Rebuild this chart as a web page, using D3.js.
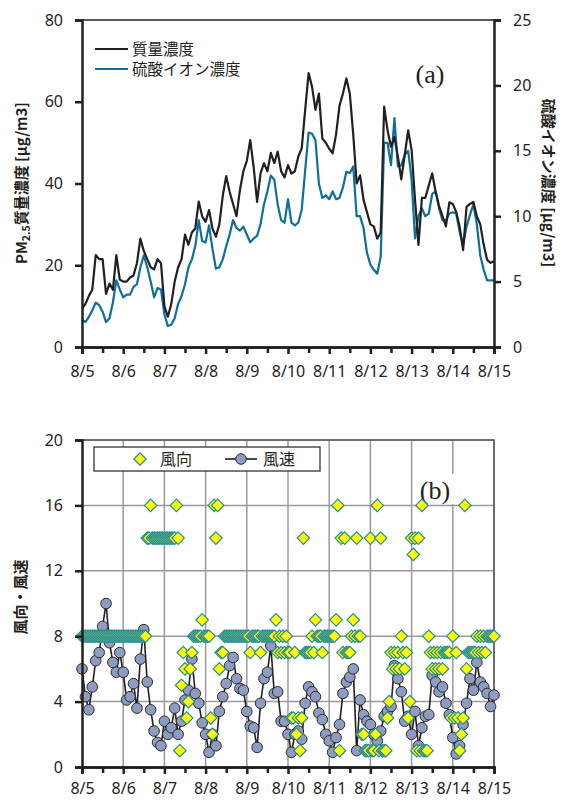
<!DOCTYPE html>
<html>
<head>
<meta charset="utf-8">
<script src="https://cdn.jsdelivr.net/npm/d3@7"></script>
<style>
  body { margin: 0; background: #fff; }
  svg { display: block; }
  text { font-family: "Noto Sans", "Open Sans", sans-serif; }
  .jp { font-family: "Noto Sans CJK JP", sans-serif; }
</style>
</head>
<body>
<div id="chart"></div>
<script>
// day labels (8/5 .. 8/15)
var dayLabels = ["8/5","8/6","8/7","8/8","8/9","8/10","8/11","8/12","8/13","8/14","8/15"];

// (a) 2-hourly PM2.5 mass concentration [ug/m3], 8/5 00:00 .. 8/15 00:00
var pmMass = [
  9.5,10.5,12.5,14,22.5,21.5,21.5,13,15.5,14,22.5,16.5,
  16,16,17,17.5,20.5,26.5,23.5,21.5,19.5,19,21.5,20.5,
  10,7.4,10.5,16,19.5,21.5,27.5,25,28,29,35.6,32,
  30.6,33.5,29,27,30,37,41.8,38,35,32,38.4,43,
  45.5,50.6,44,35.5,42.5,45,43,47.5,45,47.8,43,41.5,
  44.5,42.4,43,46.6,48.6,58,67,63.7,58,62,51,50,
  48.5,47.4,52,59,62,65.7,62,52,40,42,36,33,
  30,29.5,26.5,28,58.8,53,49,51.4,46.6,41,47,53,
  48.3,36,25,36.5,36.5,39.5,42.5,38,34.5,32,29.5,35.4,
  35,33,29.4,23.7,34.3,35,35.5,32,30,25,21.3,20.6,
  21
];

// (a) 2-hourly sulfate ion concentration [ug/m3] (right axis)
var sulfate = [
  2.1,1.9,2.3,2.8,3.4,3.2,2.7,1.9,2.2,3.4,5.1,4.4,
  3.8,4.0,4.0,4.6,4.8,6.1,7.0,6.1,5.0,3.8,4.5,4.4,
  2.5,1.6,1.7,2.2,3.3,3.9,4.8,6.1,6.7,7.7,9.7,8.1,
  8.0,9.3,7.5,6.0,6.1,6.7,7.7,8.6,9.7,9.1,8.9,9.2,
  8.6,8.0,8.3,8.5,9.4,10.9,11.9,13.1,12.8,10.9,9.7,9.5,
  11.3,9.5,9.3,9.5,10.5,13.5,16.4,16.3,15.8,12.5,11.4,11.6,
  11.3,11.9,11.3,11.4,12.2,13.4,13.3,13.8,10.0,10.0,9.1,7.2,
  6.3,5.9,5.6,6.9,15.6,15.6,13.9,17.5,13.8,13.9,14.7,15.0,
  12.8,8.3,10.0,10.6,10.0,10.2,11.7,11.9,10.6,9.7,9.7,10.2,
  10.3,10.2,8.8,7.8,9.2,10.1,10.9,9.4,7.0,5.9,5.1,5.1,
  5.1
];

// (b) 2-hourly wind speed [m/s]
var windSpeed = [
  6.0,4.3,3.5,4.9,6.5,7.0,8.6,10.0,7.6,6.4,5.8,7.0,
  5.8,4.1,4.3,5.1,3.6,6.6,8.4,5.2,3.5,2.2,1.5,1.3,
  2.8,2.0,2.4,3.6,2.0,2.8,4.1,4.7,6.6,4.5,3.9,2.7,
  2.0,0.9,2.0,1.3,3.4,4.3,5.1,6.2,6.7,5.4,4.8,4.7,
  3.4,2.5,2.4,1.2,3.9,5.4,5.8,7.4,4.5,4.6,2.8,2.8,
  2.0,0.9,2.0,2.2,1.7,3.9,4.9,4.6,4.3,3.3,2.9,2.0,
  1.6,0.9,1.8,2.6,4.5,5.2,5.5,6.0,1.0,4.1,3.2,2.8,
  2.6,2.0,1.6,2.2,3.1,3.4,3.7,6.2,5.4,4.6,2.8,3.1,
  2.0,3.4,1.3,2.4,3.1,3.2,5.6,5.2,4.6,4.9,3.9,3.2,
  1.8,0.8,1.3,2.6,3.9,5.4,4.7,6.4,5.2,4.9,4.5,3.7,
  4.4
];

// (b) hourly wind direction (16 points)
var windDir = [
  8,8,8,8,8,8,8,8,8,8,8,8,8,8,8,8,8,8,8,8,8,8,8,8,
  8,8,8,8,8,8,8,8,8,8,8,8,8,8,14,14,16,14,14,14,14,14,14,14,
  14,14,14,14,14,14,14,16,14,1,5,7,6,3,4,6,7,8,8,8,8,8,9,8,
  8,8,8,3,2,16,14,16,6,7,7,8,8,8,8,8,8,8,8,8,8,8,8,8,
  8,8,7,8,8,8,8,8,7,8,8,8,8,8,8,8,8,9,7,8,7,8,7,8,
  7,7,3,3,7,2,3,1,3,14,7,7,7,7,8,7,9,8,8,8,7,8,8,8,
  8,8,8,8,9,16,1,14,7,14,7,7,7,8,9,8,14,8,8,2,2,1,1,1,
  14,1,1,2,16,1,14,1,1,1,3,4,7,6,7,6,7,6,8,7,6,7,3,4,
  14,13,14,1,14,1,16,1,1,1,8,7,6,7,6,7,6,7,6,7,7,7,7,3,
  8,3,7,3,1,2,3,16,6,7,7,7,7,7,8,7,8,7,8,7,8,8,8,8,
  8
];

var leftTicksA = [0, 20, 40, 60, 80];
var rightTicksA = [0, 5, 10, 15, 20, 25];
var leftTicksB = [0, 4, 8, 12, 16, 20];

var W = 562, H = 800;
var svg = d3.select("#chart").append("svg")
  .attr("width", W).attr("height", H);

var x = d3.scaleLinear().domain([0, 10]).range([82, 494]);
var dayTicks = d3.range(0, 11);
var halfTicks = d3.range(0.5, 10, 1);

function styleAxis(g) {
  g.selectAll("path.domain").attr("stroke", "#231f20").attr("stroke-width", 2.5);
  g.selectAll(".tick line").attr("stroke", "#231f20").attr("stroke-width", 2.5);
  g.selectAll("text").attr("font-size", 16).attr("fill", "#231f20");
}

function drawXAxis(yPos, pad) {
  var g1 = svg.append("g").attr("transform", "translate(0," + yPos + ")")
    .call(d3.axisBottom(x).tickValues(halfTicks).tickSize(6).tickFormat(""));
  var g2 = svg.append("g").attr("transform", "translate(0," + yPos + ")")
    .call(d3.axisBottom(x).tickValues(dayTicks).tickSize(7).tickPadding(pad)
      .tickFormat(function(d) { return dayLabels[d]; }));
  styleAxis(g1);
  styleAxis(g2);
}

// ----- (a) -----
var yA = d3.scaleLinear().domain([0, 80]).range([347, 20]);
var yA2 = d3.scaleLinear().domain([0, 25]).range([347, 20]);

svg.append("line")
  .attr("x1", 82).attr("x2", 494).attr("y1", 20).attr("y2", 20)
  .attr("stroke", "#231f20").attr("stroke-width", 1.5);

var lineMass = d3.line()
  .x(function(d, i) { return x(i / 12); })
  .y(function(d) { return yA(d); });
var lineSul = d3.line()
  .x(function(d, i) { return x(i / 12); })
  .y(function(d) { return yA2(d); });

svg.append("path").datum(sulfate)
  .attr("d", lineSul).attr("fill", "none")
  .attr("stroke", "#0e6f9b").attr("stroke-width", 2.2)
  .attr("stroke-linejoin", "round");
svg.append("path").datum(pmMass)
  .attr("d", lineMass).attr("fill", "none")
  .attr("stroke", "#231f20").attr("stroke-width", 2.2)
  .attr("stroke-linejoin", "round");

var axL = svg.append("g").attr("transform", "translate(82,0)")
  .call(d3.axisLeft(yA).tickValues(leftTicksA).tickSize(7).tickPadding(12));
var axR = svg.append("g").attr("transform", "translate(494,0)")
  .call(d3.axisRight(yA2).tickValues(rightTicksA).tickSize(7).tickPadding(12));
styleAxis(axL);
styleAxis(axR);
drawXAxis(347, 12);

// legend (a)
var legA = [["質量濃度", "#231f20"], ["硫酸イオン濃度", "#0e6f9b"]];
legA.forEach(function(l, i) {
  var yy = 49 + i * 20;
  svg.append("line").attr("x1", 95).attr("x2", 128).attr("y1", yy).attr("y2", yy)
    .attr("stroke", l[1]).attr("stroke-width", 2.2);
  svg.append("text").attr("class", "jp").attr("x", 132).attr("y", yy + 5.5)
    .attr("font-size", 15.5).attr("fill", "#231f20").text(l[0]);
});

svg.append("text").attr("x", 430).attr("y", 83).attr("text-anchor", "middle")
  .style("font-family", "'Liberation Serif', serif").attr("font-size", 26)
  .attr("fill", "#231f20").text("(a)");

// axis titles (a)
var tl = svg.append("text").attr("class", "jp")
  .attr("transform", "translate(27,183) rotate(-90)")
  .attr("text-anchor", "middle").attr("font-size", 15).attr("font-weight", "bold")
  .attr("fill", "#231f20");
tl.append("tspan").text("PM");
tl.append("tspan").attr("font-size", 10.5).attr("dy", 3).text("2.5");
tl.append("tspan").attr("dy", -3).text("質量濃度 [μg/m3]");

svg.append("text").attr("class", "jp")
  .attr("transform", "translate(543,183) rotate(90)")
  .attr("text-anchor", "middle").attr("font-size", 15).attr("font-weight", "bold")
  .attr("fill", "#231f20").text("硫酸イオン濃度 [μg/m3]");

// ----- (b) -----
var yB = d3.scaleLinear().domain([0, 20]).range([767, 440]);

var grid = svg.append("g");
grid.selectAll("line.v").data(dayTicks.slice(1)).enter().append("line")
  .attr("x1", function(d) { return x(d); }).attr("x2", function(d) { return x(d); })
  .attr("y1", 440).attr("y2", 767)
  .attr("stroke", "#9a9a9a").attr("stroke-width", 1.5);
grid.selectAll("line.h").data(leftTicksB.slice(1)).enter().append("line")
  .attr("x1", 82).attr("x2", 494)
  .attr("y1", function(d) { return yB(d); }).attr("y2", function(d) { return yB(d); })
  .attr("stroke", "#9a9a9a").attr("stroke-width", 1.5);
svg.append("path")
  .attr("d", "M82,440H494V767")
  .attr("fill", "none").attr("stroke", "#555").attr("stroke-width", 1.5);

// "(b)" label with white background
svg.append("rect").attr("x", 416).attr("y", 474).attr("width", 38).attr("height", 30)
  .attr("fill", "#fff");
svg.append("text").attr("x", 435).attr("y", 499).attr("text-anchor", "middle")
  .style("font-family", "'Liberation Serif', serif").attr("font-size", 26)
  .attr("fill", "#231f20").text("(b)");

var lineSpd = d3.line()
  .x(function(d, i) { return x(i / 12); })
  .y(function(d) { return yB(d); });
svg.append("path").datum(windSpeed)
  .attr("d", lineSpd).attr("fill", "none")
  .attr("stroke", "#231f20").attr("stroke-width", 1.6);
svg.append("g").selectAll("circle").data(windSpeed).enter().append("circle")
  .attr("cx", function(d, i) { return x(i / 12); })
  .attr("cy", function(d) { return yB(d); })
  .attr("r", 5.3)
  .attr("fill", "#8d9cc0").attr("stroke", "#2a2a2a").attr("stroke-width", 1);

var diamond = "M0,-6.2L6.2,0L0,6.2L-6.2,0Z";
svg.append("g").selectAll("path").data(windDir).enter().append("path")
  .attr("d", diamond)
  .attr("transform", function(d, i) { return "translate(" + x(i / 24) + "," + yB(d) + ")"; })
  .attr("fill", "#ffff00").attr("stroke", "#1f8aa0").attr("stroke-width", 1.2);

var axLB = svg.append("g").attr("transform", "translate(82,0)")
  .call(d3.axisLeft(yB).tickValues(leftTicksB).tickSize(7).tickPadding(12));
styleAxis(axLB);
drawXAxis(767, 9);

// legend (b)
var lg = svg.append("g");
lg.append("rect").attr("x", 94).attr("y", 447).attr("width", 226).attr("height", 24)
  .attr("fill", "#fff").attr("stroke", "#333").attr("stroke-width", 1.3);
lg.append("path").attr("d", diamond).attr("transform", "translate(140,459)")
  .attr("fill", "#ffff00").attr("stroke", "#1f8aa0").attr("stroke-width", 1.2);
lg.append("text").attr("class", "jp").attr("x", 160).attr("y", 465)
  .attr("font-size", 16).attr("fill", "#231f20").text("風向");
lg.append("line").attr("x1", 225).attr("x2", 257).attr("y1", 459).attr("y2", 459)
  .attr("stroke", "#231f20").attr("stroke-width", 1.6);
lg.append("circle").attr("cx", 241).attr("cy", 459).attr("r", 5.3)
  .attr("fill", "#8d9cc0").attr("stroke", "#2a2a2a").attr("stroke-width", 1);
lg.append("text").attr("class", "jp").attr("x", 263).attr("y", 465)
  .attr("font-size", 16).attr("fill", "#231f20").text("風速");

svg.append("text").attr("class", "jp")
  .attr("transform", "translate(26,597) rotate(-90)")
  .attr("text-anchor", "middle").attr("font-size", 15).attr("font-weight", "bold")
  .attr("fill", "#231f20").text("風向・風速");
</script>
</body>
</html>
